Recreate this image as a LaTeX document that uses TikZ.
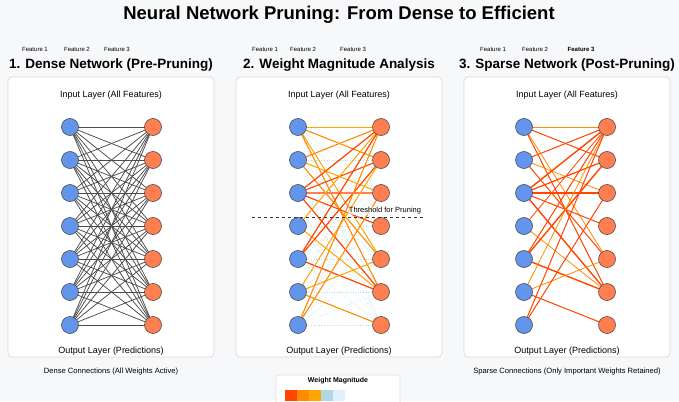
\documentclass[tikz,border=0pt]{standalone}
\usepackage{fontspec}
\setmainfont{Liberation Sans}
\begin{document}
\begin{tikzpicture}[x=1pt,y=-1pt,
  inn/.style={circle,draw=black!70,fill=inblue,minimum size=17pt,inner sep=0pt,line width=0.6pt},
  outn/.style={circle,draw=black!70,fill=outcoral,minimum size=17pt,inner sep=0pt,line width=0.6pt},
  panel/.style={draw=black!15,fill=white,rounded corners=4pt,line width=0.7pt},
  ptitle/.style={font=\fontsize{13.5}{14}\selectfont\bfseries},
  feat/.style={font=\fontsize{6}{7}\selectfont},
  lay/.style={font=\fontsize{9}{10}\selectfont},
  captxt/.style={font=\fontsize{7.6}{8}\selectfont}]
\definecolor{bg}{HTML}{F7F8FA}
\definecolor{inblue}{HTML}{6495ED}
\definecolor{outcoral}{HTML}{FF7F50}
\definecolor{wred}{HTML}{FF4500}
\definecolor{worange}{HTML}{FF8C00}
\definecolor{wyellow}{HTML}{FFA500}
\definecolor{wblue}{HTML}{ADD8E6}
\definecolor{wpale}{HTML}{E0F0FF}
\fill[bg] (0,0) rectangle (679,401);
\useasboundingbox (0,0) rectangle (679,401);

\node[font=\fontsize{18.5}{19}\selectfont\bfseries] (title) at (339,15) {Neural Network Pruning: From Dense to Efficient};

% panels
\foreach \p/\cx in {1/111,2/339,3/567}{
  \draw[panel] (\cx-103,77) rectangle (\cx+103,357);
  \node[lay] (inl\p) at (\cx,95) {Input Layer (All Features)};
  \node[lay] (outl\p) at (\cx,351) {Output Layer (Predictions)};
}
\node[ptitle] (t1) at (111,65) {1. Dense Network (Pre-Pruning)};
\node[ptitle] (t2) at (339,65) {2. Weight Magnitude Analysis};
\node[ptitle] (t3) at (567,65) {3. Sparse Network (Post-Pruning)};

\node[feat] (f11) at (35,49) {Feature 1};
\node[feat] (f12) at (77,49) {Feature 2};
\node[feat] (f13) at (117,49) {Feature 3};
\node[feat] (f21) at (265,49) {Feature 1};
\node[feat] (f22) at (303,49) {Feature 2};
\node[feat] (f23) at (353,49) {Feature 3};
\node[feat] (f31) at (493,49) {Feature 1};
\node[feat] (f32) at (535,49) {Feature 2};
\node[feat,font=\fontsize{6}{7}\selectfont\bfseries] (f33) at (581,49) {Feature 3};

% nodes coordinates
\foreach \p/\lx in {1/70,2/298,3/524}{
  \foreach \i in {1,...,7}{
    \coordinate (a\p\i) at (\lx,{127+33*(\i-1)});
    \coordinate (b\p\i) at (\lx+83,{127+33*(\i-1)});
  }
}

% panel 1 dense
\foreach \i in {1,...,7}{
  \foreach \j in {1,...,7}{
    \draw[black!70,line width=0.75pt] (a1\i) -- (b1\j);
  }
}
% panel 2 faint
\foreach \i in {1,...,7}{
  \foreach \j in {1,...,7}{
    \draw[wblue,dotted,line width=0.6pt] (a2\i) -- (b2\j);
  }
}
\foreach \i/\j/\c/\w in {1/1/wyellow/1,1/2/worange/1.1,1/5/wyellow/1,1/6/worange/1.1,
  2/1/worange/1.1,2/3/wyellow/1,2/5/worange/1.1,
  3/1/wred/1.2,3/2/wred/1.1,3/3/outcoral/2,3/4/wred/1.1,3/6/wred/1.2,
  4/1/wyellow/1,4/6/wyellow/1,
  5/1/wred/1.2,5/2/wred/1.2,5/6/wred/1.2,
  6/2/wyellow/1,6/5/wyellow/1,6/7/worange/1.1,
  7/1/worange/1.1,7/3/worange/1.1}{
  \draw[\c,line width=\w pt] (a2\i) -- (b2\j);
}
% panel 3 sparse
\foreach \i/\j/\c/\w in {1/1/worange/0.8,1/2/wred/1,1/5/worange/0.8,1/6/wred/1,
  2/1/wred/1,2/3/worange/0.8,2/5/wred/1,
  3/1/wred/1.4,3/2/wred/1.2,3/3/wred/2,3/4/wred/1,3/6/wred/1.4,
  4/1/wred/0.8,4/6/worange/0.8,
  5/1/wred/1,5/2/wred/1.4,5/6/wred/1.4,
  6/1/worange/0.8,6/5/worange/0.8,6/7/wred/1,
  7/1/wred/1,7/3/wred/1}{
  \draw[\c,line width=\w pt] (a3\i) -- (b3\j);
}

\foreach \p in {1,2,3}{
  \foreach \i in {1,...,7}{
    \node[inn] (n\p\i) at (a\p\i) {};
    \node[outn] (m\p\i) at (b\p\i) {};
  }
}

% threshold
\coordinate (th1) at (252,217);
\coordinate (th2) at (426,217);
\draw[black!80,dashed,line width=0.8pt] (th1) -- (th2);
\node[font=\fontsize{7.5}{8}\selectfont,fill=white,fill opacity=0.6,text opacity=1,inner sep=1pt] (thl) at (385,211) {Threshold for Pruning};

\node[captxt] (c1) at (111,372) {Dense Connections (All Weights Active)};
\node[captxt] (c3) at (567,372) {Sparse Connections (Only Important Weights Retained)};

% legend
\draw[panel,rounded corners=2pt,draw=black!12] (276,375) rectangle (400,410);
\node[font=\fontsize{7}{8}\selectfont\bfseries] (lt) at (338,381) {Weight Magnitude};
\foreach \k/\c in {0/wred,1/worange,2/wyellow,3/wblue,4/wpale}{
  \fill[\c] (285+12*\k,390) rectangle (297+12*\k,401);
}
\end{tikzpicture}
\end{document}
